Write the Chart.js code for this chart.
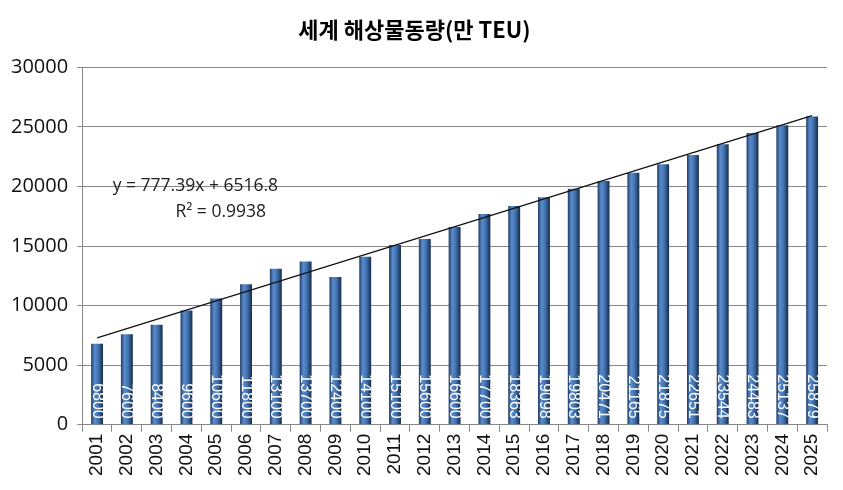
<!DOCTYPE html>
<html>
<head>
<meta charset="utf-8">
<script src="https://cdn.jsdelivr.net/npm/chart.js@4.4.0/dist/chart.umd.min.js"></script>
<style>
  html, body { margin: 0; padding: 0; background: #fff; }
  #wrap { width: 843px; height: 490px; }
</style>
</head>
<body>
<div id="wrap"><canvas id="ctx"></canvas></div>
<script>
const years = ["2001","2002","2003","2004","2005","2006","2007","2008","2009","2010","2011","2012","2013",
               "2014","2015","2016","2017","2018","2019","2020","2021","2022","2023","2024","2025"];
const volume = [6800,7600,8400,9600,10600,11800,13100,13700,12400,14100,15100,15600,16600,
                17700,18363,19098,19803,20471,21165,21875,22651,23544,24483,25137,25879];
// trendline end points (y = 777.39x + 6516.8)
const trendEnds = [7294, 25952];
const trendText = ["y = 777.39x + 6516.8", "R² = 0.9938"];
const yTicks = [0, 5000, 10000, 15000, 20000, 25000, 30000];

const trendData = years.map((_, i) => i === 0 ? trendEnds[0] : (i === years.length - 1 ? trendEnds[1] : null));

function barFill(context) {
    const chart = context.chart;
    const x = chart.scales.x;
    if (!x || !chart.chartArea) return "#3f6eaa";
    const cx = x.getPixelForValue(context.dataIndex);
    const w = (x.width / years.length) * 0.4;
    const g = chart.ctx.createLinearGradient(cx - w / 2, 0, cx + w / 2, 0);
    g.addColorStop(0, "#1f3d68");
    g.addColorStop(0.3, "#5a8ccc");
    g.addColorStop(0.6, "#4272b0");
    g.addColorStop(1, "#152b4a");
    return g;
}

const barLabels = {
    id: "barLabels",
    afterDatasetsDraw(chart) {
        const c = chart.ctx;
        const meta = chart.getDatasetMeta(0);
        const base = chart.scales.y.getPixelForValue(0);
        c.save();
        c.fillStyle = "#ffffff";
        c.font = "16px 'Liberation Sans', Arial, sans-serif";
        meta.data.forEach((bar, i) => {
            c.save();
            c.translate(bar.x, base - 6);
            c.rotate(Math.PI / 2);
            c.textAlign = "right";
            c.textBaseline = "middle";
            c.fillText(String(volume[i]), 0, 0);
            c.restore();
        });
        c.restore();
    }
};

const trendLabel = {
    id: "trendLabel",
    afterDraw(chart) {
        const c = chart.ctx;
        const x = chart.scales.x;
        const y = chart.scales.y;
        c.save();
        c.fillStyle = "#222";
        c.font = "17.5px 'Open Sans', 'DejaVu Sans', sans-serif";
        c.textAlign = "center";
        c.textBaseline = "middle";
        c.fillText(trendText[0], x.getPixelForValue(3.3), y.getPixelForValue(20000));
        c.fillText(trendText[1], x.getPixelForValue(4.15), y.getPixelForValue(17850));
        c.restore();
    }
};

const chart = new Chart(document.getElementById("ctx"), {
    type: "bar",
    data: {
        labels: years,
        datasets: [{
            label: "세계 해상물동량",
            data: volume,
            backgroundColor: barFill,
            borderWidth: 0,
            categoryPercentage: 1,
            barPercentage: 0.4,
            order: 2
        }, {
            type: "line",
            label: "추세선",
            data: trendData,
            spanGaps: true,
            borderColor: "#111",
            borderWidth: 1.2,
            pointRadius: 0,
            fill: false,
            order: 1
        }]
    },
    options: {
        responsive: true,
        maintainAspectRatio: false,
        animation: false,
        layout: { padding: { left: 2, right: 16, top: 4, bottom: 12 } },
        plugins: {
            legend: { display: false },
            tooltip: { enabled: false },
            title: {
                display: true,
                text: "세계 해상물동량(만 TEU)",
                color: "#000",
                font: { family: "'Noto Sans CJK KR', sans-serif", size: 22, weight: "bold" },
                padding: { top: 12, bottom: 25 }
            }
        },
        scales: {
            x: {
                offset: true,
                grid: { display: true, offset: true, drawOnChartArea: false, color: "#888", tickLength: 7 },
                border: { display: true, color: "#888" },
                ticks: {
                    color: "#111",
                    maxRotation: 90,
                    minRotation: 90,
                    padding: 2,
                    font: { family: "'Liberation Sans', Arial, sans-serif", size: 19 }
                }
            },
            y: {
                min: 0,
                max: 30000,
                afterBuildTicks: axis => { axis.ticks = yTicks.map(v => ({ value: v })); },
                grid: { color: "#888", tickLength: 5 },
                border: { display: true, color: "#888" },
                ticks: {
                    color: "#111",
                    padding: 9,
                    callback: v => String(v),
                    font: { family: "'Open Sans', 'DejaVu Sans', sans-serif", size: 20 }
                }
            }
        }
    },
    plugins: [barLabels, trendLabel]
});
</script>
</body>
</html>
